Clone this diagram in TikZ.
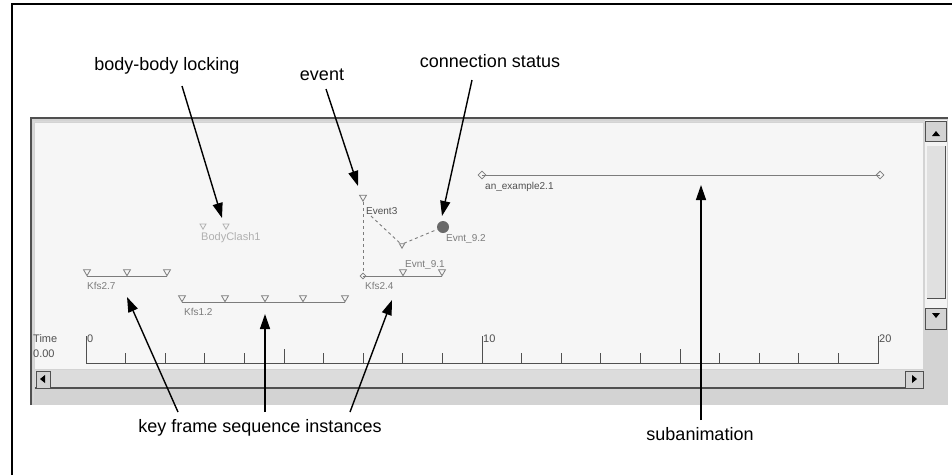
\documentclass[tikz,border=0pt]{standalone}
\usepackage{fontspec}
\setmainfont{Liberation Sans}
\usetikzlibrary{arrows.meta,shapes.geometric}
\definecolor{wingray}{HTML}{D3D3D3}
\definecolor{canvas}{HTML}{F6F6F6}
\definecolor{bevel}{HTML}{505050}
\definecolor{itemc}{HTML}{7C7C7C}
\definecolor{itemlight}{HTML}{B0B0B0}
\tikzset{
  callout/.style={font=\fontsize{18}{20}\selectfont, inner sep=0pt, anchor=base},
  pointer/.style={draw=black, line width=1.4pt, -{Triangle[length=15pt,width=10pt]}},
  guitext/.style={font=\fontsize{10}{11}\selectfont, inner sep=0pt, anchor=base west, text=itemc},
  track/.style={draw=itemc, line width=1pt},
  kmark/.style={regular polygon, regular polygon sides=3, shape border rotate=180, draw=itemc, line width=0.8pt, minimum size=8pt, inner sep=0pt, anchor=south},
  dmark/.style={diamond, draw=itemc, line width=0.8pt, minimum size=8pt, inner sep=0pt},
  btn/.style={fill=wingray, draw=bevel, line width=1pt},
  rulertext/.style={font=\fontsize{11}{12}\selectfont, inner sep=0pt, anchor=base west, text=bevel},
}
\begin{document}
\begin{tikzpicture}[x=1pt,y=-1pt]
\useasboundingbox (0,0) rectangle (952,475);
\fill[white] (0,0) rectangle (952,475);
% outer frame
\draw[line width=1.3pt] (12,475) -- (12,4) -- (952,4);
% window
\fill[wingray] (30,117) rectangle (948,405);
\draw[bevel, line width=2pt] (31,405) -- (31,118) -- (948,118);
\draw[white!85!black, line width=1pt] (33,403) -- (33,121) -- (946,121);
\fill[canvas] (35,123) rectangle (923,369);
% vertical scrollbar
\fill[canvas!90!wingray] (925,120) rectangle (947,330);
\draw[btn] (925,121) rectangle (946,141);
\fill[black] (932,136) -- (940,136) -- (936,131) -- cycle;
\fill[wingray!70!white] (927,146) rectangle (945,298);
\draw[bevel, line width=1pt] (945,146) -- (945,298) -- (927,298);
\draw[btn] (925,308) rectangle (946,329);
\fill[black] (932,313) -- (940,313) -- (936,318) -- cycle;
% horizontal scrollbar
\fill[wingray!80!white] (35,370) rectangle (923,388);
\draw[bevel, line width=1.5pt] (35,388) -- (923,388);
\draw[btn] (36,371) rectangle (50,388);
\fill[black] (40,379) -- (45,375) -- (45,383) -- cycle;
\draw[btn] (905,371) rectangle (923,388);
\fill[black] (917,379) -- (912,375) -- (912,383) -- cycle;
% ruler
\node[rulertext] (timelbl) at (33,342) {Time};
\node[rulertext] (timeval) at (33,357) {0.00};
\draw[bevel, line width=1pt] (86,336) -- (86,363) -- (878,363) -- (878,336);
\draw[bevel, line width=1pt] (482,336) -- (482,363);
\foreach \i in {1,...,9,11,12,13,14,16,17,18,19} {
  \draw[bevel, line width=0.9pt] (86+39.6*\i,363) -- ++(0,-10);
}
\draw[bevel, line width=0.9pt] (284,363) -- ++(0,-14);
\draw[bevel, line width=0.9pt] (680,363) -- ++(0,-14);
\node[rulertext] (r0) at (87,342) {0};
\node[rulertext] (r10) at (483,342) {10};
\node[rulertext] (r20) at (879,342) {20};
% subanimation track
\draw[track] (482,175) -- (880,175);
\node[dmark] (sa0) at (482,175) {};
\node[dmark] (sa1) at (880,175) {};
\node[guitext, text=bevel] (salbl) at (485,189) {an\_example2.1};
% body clash
\node[kmark, draw=itemlight, minimum size=7pt] (bc0) at (203,230) {};
\node[kmark, draw=itemlight, minimum size=7pt] (bc1) at (226,230) {};
\node[guitext, text=itemlight, font=\fontsize{11}{12}\selectfont] (bclbl) at (201,240) {BodyClash1};
% Kfs2.7
\draw[track] (87,276) -- (167,276);
\foreach \x/\n in {87/a,127/b,167/c} { \node[kmark] (k27\n) at (\x,276.5) {}; }
\node[guitext] (k27lbl) at (87,289) {Kfs2.7};
% Kfs1.2
\draw[track] (182,302) -- (345,302);
\foreach \x/\n in {182/a,225/b,265/c,303/d,345/e} { \node[kmark] (k12\n) at (\x,302.5) {}; }
\node[guitext] (k12lbl) at (184,315) {Kfs1.2};
% Kfs2.4
\draw[track] (363,276) -- (442,276);
\foreach \x/\n in {403/b,442/c} { \node[kmark] (k24\n) at (\x,276.5) {}; }
\node[dmark, minimum size=6pt] (k24a) at (363,276) {};
\node[guitext] (k24lbl) at (365,289) {Kfs2.4};
% events
\node[kmark] (ev3) at (363,202) {};
\node[guitext, text=bevel] (ev3lbl) at (366,214) {Event3};
\node[kmark, minimum size=6pt] (ev91) at (402,249) {};
\node[guitext] (ev91lbl) at (405,267) {Evnt\_9.1};
\node[circle, fill=itemc!85!black, minimum size=12pt, inner sep=0pt] (ev92) at (443,227) {};
\node[guitext] (ev92lbl) at (446,241) {Evnt\_9.2};
\draw[itemc, dashed, line width=0.9pt] (ev3.south) -- (k24a.north);
\draw[itemc, dashed, line width=0.9pt] (371,216) -- (ev91.north west);
\draw[itemc, dashed, line width=0.9pt] (ev91.north east) -- (ev92);
% callout labels
\node[callout] (lbody) at (167,70) {body-body locking};
\node[callout] (levent) at (322,80) {event};
\node[callout] (lconn) at (490,67) {connection status};
\node[callout] (lkey) at (260,432) {key frame sequence instances};
\node[callout] (lsub) at (700,440) {subanimation};
% arrow ends
\coordinate (b0) at (182,86);
\coordinate (b1) at (222,218);
\coordinate (e0) at (326,89);
\coordinate (e1) at (358,186);
\coordinate (c0) at (472,80);
\coordinate (c1) at (442,216);
\coordinate (s0) at (701,420);
\coordinate (s1) at (701,185);
\coordinate (k0a) at (178,412);
\coordinate (k0b) at (265,412);
\coordinate (k0c) at (350,412);
\coordinate (k1a) at (127,297);
\coordinate (k1b) at (265,314);
\coordinate (k1c) at (392,300);
\draw[pointer] (b0) -- (b1);
\draw[pointer] (e0) -- (e1);
\draw[pointer] (c0) -- (c1);
\draw[pointer] (s0) -- (s1);
\draw[pointer] (k0a) -- (k1a);
\draw[pointer] (k0b) -- (k1b);
\draw[pointer] (k0c) -- (k1c);
\end{tikzpicture}
\end{document}
